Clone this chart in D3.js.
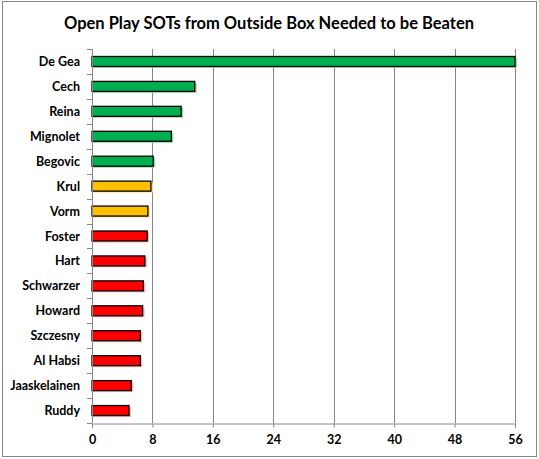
<!DOCTYPE html>
<html>
<head>
<meta charset="utf-8">
<script src="https://cdn.jsdelivr.net/npm/d3@7"></script>
<style>
  body { margin: 0; background: #fff; }
  text { font-family: Lato, "Liberation Sans", sans-serif; font-weight: bold; fill: #000; }
</style>
</head>
<body>
<script>
// chart data
var keepers = ["De Gea", "Cech", "Reina", "Mignolet", "Begovic", "Krul", "Vorm", "Foster",
               "Hart", "Schwarzer", "Howard", "Szczesny", "Al Habsi", "Jaaskelainen", "Ruddy"];
var sotsNeeded = [56, 13.6, 11.8, 10.5, 8.1, 7.8, 7.4, 7.3, 7.0, 6.8, 6.7, 6.4, 6.4, 5.2, 4.9];
var tier = ["good", "good", "good", "good", "good", "mid", "mid", "bad",
            "bad", "bad", "bad", "bad", "bad", "bad", "bad"];
var xTicks = [0, 8, 16, 24, 32, 40, 48, 56];

window.onload = function() {
    var w = 539, h = 459;
    var margin = {top: 49, right: 24, bottom: 36, left: 92};

    var svg = d3.select("body").append("svg")
        .attr("width", w)
        .attr("height", h);

    // outer chart border
    svg.append("rect")
        .attr("x", 2.5).attr("y", 1.5)
        .attr("width", w - 5).attr("height", h - 4)
        .style("fill", "#fff")
        .style("stroke", "#868686")
        .style("stroke-width", 1);

    svg.append("text")
        .attr("x", 269)
        .attr("y", 29)
        .attr("text-anchor", "middle")
        .style("font-size", "16.5px")
        .text("Open Play SOTs from Outside Box Needed to be Beaten");

    var xScale = d3.scaleLinear()
        .domain([0, 56])
        .range([margin.left, w - margin.right]);

    var yScale = d3.scaleBand()
        .domain(keepers)
        .range([margin.top, h - margin.bottom])
        .paddingInner(0.6)
        .paddingOuter(0.3);

    var color = d3.scaleOrdinal()
        .domain(["good", "mid", "bad"])
        .range(["#00B050", "#FFC000", "#FF0000"]);
    var shadow = d3.scaleOrdinal()
        .domain(["good", "mid", "bad"])
        .range(["#8fd9ae", "#ffe199", "#ffb3b3"]);

    // vertical gridlines
    svg.selectAll(".grid")
        .data(xTicks.slice(1))
        .enter().append("line")
        .attr("class", "grid")
        .attr("x1", function(d) { return Math.round(xScale(d)) + 0.5; })
        .attr("x2", function(d) { return Math.round(xScale(d)) + 0.5; })
        .attr("y1", margin.top)
        .attr("y2", h - margin.bottom)
        .style("stroke", "#868686");

    var data = keepers.map(function(k, i) {
        return {name: k, value: sotsNeeded[i], tier: tier[i]};
    });

    // soft shadow behind each bar
    svg.selectAll(".shadow")
        .data(data)
        .enter().append("rect")
        .attr("class", "shadow")
        .attr("x", xScale(0) + 1)
        .attr("y", function(d) { return yScale(d.name) + 1.5; })
        .attr("width", function(d) { return xScale(d.value) - xScale(0) + 1; })
        .attr("height", yScale.bandwidth())
        .style("fill", function(d) { return shadow(d.tier); });

    svg.selectAll(".bar")
        .data(data)
        .enter().append("rect")
        .attr("class", "bar")
        .attr("x", xScale(0))
        .attr("y", function(d) { return yScale(d.name); })
        .attr("width", function(d) { return xScale(d.value) - xScale(0); })
        .attr("height", yScale.bandwidth())
        .style("fill", function(d) { return color(d.tier); })
        .style("stroke", "#000")
        .style("stroke-width", 1.3);

    // x axis
    var xAxis = d3.axisBottom(xScale)
        .tickValues(xTicks)
        .tickSize(4)
        .tickPadding(8);
    var gx = svg.append("g")
        .attr("transform", "translate(0," + (h - margin.bottom + 0.5) + ")")
        .call(xAxis);
    gx.select(".domain").style("stroke", "#868686");
    gx.selectAll(".tick line").style("stroke", "#868686");
    gx.selectAll(".tick text").style("font-size", "12.5px");

    // y axis: ticks sit between the categories
    var boundaries = d3.range(keepers.length + 1).map(function(i) {
        return margin.top + i * (h - margin.top - margin.bottom) / keepers.length;
    });
    var gy = svg.append("g");
    gy.append("line")
        .attr("x1", margin.left + 0.5).attr("x2", margin.left + 0.5)
        .attr("y1", margin.top).attr("y2", h - margin.bottom)
        .style("stroke", "#868686");
    gy.selectAll(".ytick")
        .data(boundaries)
        .enter().append("line")
        .attr("class", "ytick")
        .attr("x1", margin.left - 5).attr("x2", margin.left)
        .attr("y1", function(d) { return Math.round(d) + 0.5; })
        .attr("y2", function(d) { return Math.round(d) + 0.5; })
        .style("stroke", "#868686");
    gy.selectAll(".ylabel")
        .data(keepers)
        .enter().append("text")
        .attr("class", "ylabel")
        .attr("x", margin.left - 12)
        .attr("y", function(d) { return yScale(d) + yScale.bandwidth() / 2; })
        .attr("dy", "0.36em")
        .attr("text-anchor", "end")
        .style("font-size", "12.5px")
        .text(function(d) { return d; });
};
</script>
</body>
</html>
